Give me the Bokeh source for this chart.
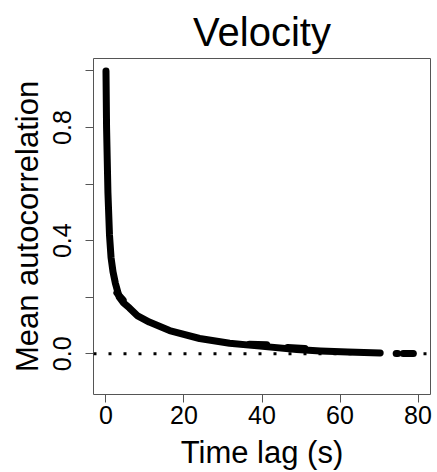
from bokeh.plotting import figure
from bokeh.models import Range1d, FixedTicker, Span
from bokeh.embed import file_html
from bokeh.resources import INLINE

# Mean autocorrelation of velocity vs time lag
lag = [0.0, 0.15, 0.5, 0.9, 1.3, 1.8, 2.4, 3.4, 4.5, 6.0, 8.0, 11.1, 16.3,
       24.0, 31.7, 39.5, 48.9, 55.0, 62.0, 70.3]
acf = [1.0, 0.80, 0.57, 0.42, 0.34, 0.29, 0.25, 0.20, 0.18, 0.162, 0.135,
       0.112, 0.082, 0.054, 0.037, 0.027, 0.015, 0.010, 0.006, 0.003]

# short overplotted pieces (other series visible as blobs / tail)
seg_lag = [[2.8, 4.4], [36.8, 41.2], [46.6, 51.0], [74.4, 74.8], [76.2, 78.8]]
seg_acf = [[0.215, 0.19], [0.034, 0.032], [0.022, 0.019], [0.001, 0.001], [0.001, 0.001]]

x_ticks = [0, 20, 40, 60, 80]
y_ticks = [0.0, 0.2, 0.4, 0.6, 0.8, 1.0]
y_tick_labels = {0.0: "0.0", 0.2: "", 0.4: "0.4", 0.6: "", 0.8: "0.8", 1.0: ""}

FONT = "Liberation Sans"

p = figure(width=437, height=472, output_backend="svg", toolbar_location=None,
           x_range=Range1d(-3.2, 83.2), y_range=Range1d(-0.144, 1.044),
           min_border_left=93, min_border_right=7, min_border_top=58,
           min_border_bottom=77, title="Velocity")

p.background_fill_color = "white"
p.border_fill_color = "white"
p.outline_line_color = "#555555"
p.outline_line_width = 1
p.xgrid.visible = False
p.ygrid.visible = False

p.title.align = "center"
p.title.text_font = FONT
p.title.text_font_size = "40px"
p.title.text_font_style = "normal"
p.title.text_color = "black"
p.title.standoff = 10

for ax in (p.xaxis[0], p.yaxis[0]):
    ax.axis_line_color = "#555555"
    ax.major_tick_line_color = "#555555"
    ax.major_tick_out = 8
    ax.major_tick_in = 0
    ax.minor_tick_line_color = None
    ax.major_label_text_font = FONT
    ax.major_label_text_font_size = "25px"
    ax.major_label_text_color = "black"
    ax.axis_label_text_font = FONT
    ax.axis_label_text_font_size = "31px"
    ax.axis_label_text_font_style = "normal"
    ax.axis_label_text_color = "black"

p.xaxis[0].ticker = FixedTicker(ticks=x_ticks)
p.xaxis[0].bounds = (x_ticks[0], x_ticks[-1])
p.xaxis[0].axis_label = "Time lag (s)"
p.xaxis[0].major_label_standoff = 3
p.xaxis[0].axis_label_standoff = 8

p.yaxis[0].ticker = FixedTicker(ticks=y_ticks)
p.yaxis[0].bounds = (y_ticks[0], y_ticks[-1])
p.yaxis[0].major_label_overrides = y_tick_labels
p.yaxis[0].major_label_orientation = "vertical"
p.yaxis[0].axis_label = "Mean autocorrelation"
p.yaxis[0].major_label_standoff = 14
p.yaxis[0].axis_label_standoff = 6

p.add_layout(Span(location=0, dimension="width", line_color="black",
                  line_width=3, line_dash="3 12"))

p.line(lag, acf, line_color="black", line_width=7, line_cap="round", line_join="round")
p.multi_line(seg_lag, seg_acf, line_color="black", line_width=7, line_cap="round")

open("out.html", "w").write(file_html(p, INLINE))
